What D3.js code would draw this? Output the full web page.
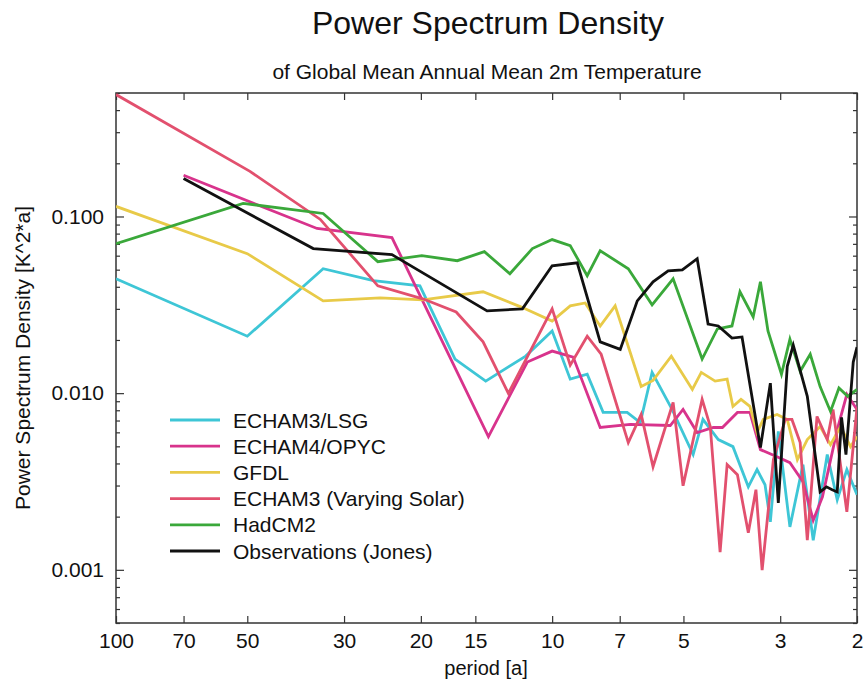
<!DOCTYPE html>
<html>
<head>
<meta charset="utf-8">
<script src="https://cdn.jsdelivr.net/npm/d3@7"></script>
<style>
  html, body { margin: 0; padding: 0; background: #ffffff; }
  svg { display: block; font-family: "Liberation Sans", Arial, Helvetica, sans-serif; }
</style>
</head>
<body>
<svg id="chart" width="864" height="682"></svg>
<script>
// Axis ticks and labels
const xTickValues = [100, 70, 50, 30, 20, 15, 10, 7, 5, 3, 2];
const yMajorValues = [0.001, 0.01, 0.1];
const yMajorLabels = ["0.001", "0.010", "0.100"];

// Legend entries, in drawing order
const seriesNames = ["ECHAM3/LSG", "ECHAM4/OPYC", "GFDL", "ECHAM3 (Varying Solar)", "HadCM2", "Observations (Jones)"];
const seriesColors = ["#3ec6d6", "#d8338c", "#e8ca48", "#e2506e", "#3aa83a", "#111111"];

// Spectra: [period (a), power spectral density (K^2*a)]
const echam3Lsg = [
  [100, 0.0444], [50, 0.0210], [33.5, 0.0506], [25.7, 0.0433], [20.1, 0.0405], [16.7, 0.0156],
  [14.2, 0.0117], [11.5, 0.0162], [10.0, 0.0225], [9.09, 0.0120], [8.31, 0.0128], [7.64, 0.00778],
  [6.73, 0.00778], [6.28, 0.00682], [5.90, 0.0131], [5.31, 0.00809], [4.75, 0.00449], [4.51, 0.00710],
  [4.16, 0.00546], [3.85, 0.00498], [3.55, 0.00295], [3.39, 0.00369], [3.25, 0.00303], [3.16, 0.00187],
  [3.03, 0.00607], [2.85, 0.00175], [2.66, 0.00394], [2.52, 0.00147], [2.34, 0.00449], [2.22, 0.00249],
  [2.11, 0.00369], [2.00, 0.00266]
];
const echam4Opyc = [
  [70, 0.171], [34.6, 0.0855], [23.3, 0.0760], [14.0, 0.00568], [11.4, 0.0150], [10.0, 0.0173],
  [8.95, 0.0160], [7.76, 0.00639], [6.62, 0.00665], [5.36, 0.00656], [5.01, 0.00809], [4.65, 0.00599],
  [4.27, 0.00639], [4.07, 0.00639], [3.76, 0.00778], [3.52, 0.00778], [3.33, 0.00479], [3.05, 0.00437],
  [2.85, 0.00404], [2.66, 0.00315], [2.52, 0.00191], [2.40, 0.00259], [2.22, 0.00622], [2.11, 0.00985],
  [2.00, 0.00809]
];
const gfdl = [
  [100, 0.114], [50, 0.0616], [33.5, 0.0333], [24.8, 0.0346], [19.8, 0.0337], [14.4, 0.0375],
  [11.8, 0.0308], [10.0, 0.0256], [9.09, 0.0312], [8.40, 0.0324], [7.76, 0.0240], [7.17, 0.0312],
  [6.25, 0.0109], [5.87, 0.0118], [5.33, 0.0162], [4.77, 0.0105], [4.55, 0.0131], [4.23, 0.0117],
  [3.97, 0.0120], [3.85, 0.00841], [3.69, 0.00922], [3.52, 0.00841], [3.39, 0.00599], [3.28, 0.00710],
  [3.05, 0.00758], [2.89, 0.00710], [2.74, 0.00420], [2.60, 0.00546], [2.43, 0.00648], [2.30, 0.00511],
  [2.18, 0.00648], [2.07, 0.00498], [2.00, 0.00568]
];
const echam3Solar = [
  [100, 0.49], [49.3, 0.180], [34.0, 0.0962], [25.1, 0.0405], [19.8, 0.0342], [16.6, 0.0288],
  [14.4, 0.0195], [12.6, 0.00998], [10.0, 0.0300], [9.09, 0.0144], [8.31, 0.0210], [7.72, 0.0166],
  [6.69, 0.00525], [6.25, 0.00758], [5.87, 0.00383], [5.28, 0.00887], [5.01, 0.00299], [4.53, 0.00922],
  [4.34, 0.00648], [4.12, 0.00126], [3.97, 0.00394], [3.76, 0.00345], [3.55, 0.00162], [3.41, 0.00284],
  [3.30, 0.000995], [3.11, 0.00420], [2.92, 0.00710], [2.82, 0.00710], [2.70, 0.00525], [2.60, 0.00147],
  [2.47, 0.00738], [2.34, 0.00546], [2.27, 0.00809], [2.11, 0.00213], [2.00, 0.00830]
];
const hadcm2 = [
  [100, 0.0702], [51.1, 0.1186], [33.5, 0.104], [25.1, 0.0555], [22.3, 0.0577], [19.9, 0.0600],
  [16.5, 0.0562], [14.3, 0.0632], [12.5, 0.0474], [11.1, 0.0658], [10.0, 0.0740], [9.09, 0.0684],
  [8.31, 0.0462], [7.76, 0.0640], [6.69, 0.0506], [5.90, 0.0316], [5.28, 0.0444], [4.53, 0.0156],
  [4.18, 0.0231], [3.87, 0.0240], [3.71, 0.0375], [3.46, 0.0270], [3.33, 0.0427], [3.20, 0.0225],
  [2.98, 0.0128], [2.85, 0.0202], [2.70, 0.0133], [2.56, 0.0166], [2.43, 0.0109], [2.30, 0.00788],
  [2.20, 0.0107], [2.10, 0.00959], [2.00, 0.0105]
];
const observationsJones = [
  [70, 0.164], [35.3, 0.0658], [23.3, 0.0608], [14.1, 0.0292], [11.7, 0.0300], [10.0, 0.0526],
  [8.76, 0.0547], [7.76, 0.0195], [6.98, 0.0177], [6.38, 0.0333], [5.87, 0.0427], [5.42, 0.0493],
  [5.03, 0.0499], [4.65, 0.0577], [4.39, 0.0246], [4.16, 0.0240], [3.87, 0.0205], [3.67, 0.0208],
  [3.33, 0.00492], [3.16, 0.0114], [3.03, 0.00239], [2.89, 0.0142], [2.80, 0.0187], [2.60, 0.00959],
  [2.43, 0.00276], [2.35, 0.00295], [2.28, 0.00284], [2.22, 0.00276], [2.17, 0.00729], [2.12, 0.00449],
  [2.04, 0.0150], [2.00, 0.0182]
];

const seriesData = [echam3Lsg, echam4Opyc, gfdl, echam3Solar, hadcm2, observationsJones];

// Layout
const plot = { left: 116, right: 857, top: 93, bottom: 623 };
const textFont = "'Liberation Sans', Arial, sans-serif";

const svg = d3.select("#chart");

const x = d3.scaleLog().domain([100, 2]).range([plot.left, plot.right]);
const y = d3.scaleLog().domain([0.0005, 0.5]).range([plot.bottom, plot.top]);

// Minor y ticks: 2..9 within each decade inside the domain
const yMinorValues = [];
[0.0001, 0.001, 0.01, 0.1].forEach(d => {
  for (let k = 2; k <= 9; k++) {
    const v = +(d * k).toPrecision(3);
    if (v >= 0.0005 && v <= 0.5 && !yMajorValues.includes(v)) yMinorValues.push(v);
  }
});

const frameColor = "#333";
const tickFont = 21;

// Bottom axis with labels, ticks pointing into the plot
const xAxisBottom = svg.append("g")
  .attr("transform", `translate(0,${plot.bottom})`)
  .call(d3.axisBottom(x).tickValues(xTickValues).tickFormat(d3.format("d"))
    .tickSizeInner(-7).tickSizeOuter(0).tickPadding(10));
// Top axis: ticks only
const xAxisTop = svg.append("g")
  .attr("transform", `translate(0,${plot.top})`)
  .call(d3.axisTop(x).tickValues(xTickValues).tickFormat("")
    .tickSizeInner(-7).tickSizeOuter(0));

// Left axis: major ticks with labels, minor ticks
const yAxisLeft = svg.append("g")
  .attr("transform", `translate(${plot.left},0)`)
  .call(d3.axisLeft(y).tickValues(yMajorValues)
    .tickFormat((d, i) => yMajorLabels[i])
    .tickSizeInner(-8).tickSizeOuter(0).tickPadding(12));
const yAxisLeftMinor = svg.append("g")
  .attr("transform", `translate(${plot.left},0)`)
  .call(d3.axisLeft(y).tickValues(yMinorValues).tickFormat("")
    .tickSizeInner(-4).tickSizeOuter(0));
// Right axis: ticks only
const yAxisRight = svg.append("g")
  .attr("transform", `translate(${plot.right},0)`)
  .call(d3.axisRight(y).tickValues(yMajorValues).tickFormat("")
    .tickSizeInner(-8).tickSizeOuter(0));
const yAxisRightMinor = svg.append("g")
  .attr("transform", `translate(${plot.right},0)`)
  .call(d3.axisRight(y).tickValues(yMinorValues).tickFormat("")
    .tickSizeInner(-4).tickSizeOuter(0));

[xAxisBottom, xAxisTop, yAxisLeft, yAxisLeftMinor, yAxisRight, yAxisRightMinor].forEach(g => {
  g.select(".domain").remove();
  g.selectAll(".tick line").attr("stroke", frameColor).attr("stroke-width", 1.2);
  g.selectAll(".tick text").attr("fill", "#111").style("font-size", tickFont + "px")
    .style("font-family", textFont);
});

// Plot frame
svg.append("rect")
  .attr("x", plot.left).attr("y", plot.top)
  .attr("width", plot.right - plot.left).attr("height", plot.bottom - plot.top)
  .attr("fill", "none").attr("stroke", frameColor).attr("stroke-width", 1.5);

// Spectrum lines
const line = d3.line().x(d => x(d[0])).y(d => y(d[1]));
svg.append("clipPath").attr("id", "plotClip")
  .append("rect").attr("x", plot.left).attr("y", plot.top)
  .attr("width", plot.right - plot.left).attr("height", plot.bottom - plot.top);

svg.append("g").attr("clip-path", "url(#plotClip)")
  .selectAll("path.series")
  .data(seriesData)
  .join("path")
  .attr("class", "series")
  .attr("d", line)
  .attr("fill", "none")
  .attr("stroke", (d, i) => seriesColors[i])
  .attr("stroke-width", 2.8)
  .attr("stroke-linejoin", "miter");

// Legend
const legend = svg.append("g");
const legendRow = d3.scaleLinear().domain([0, 1]).range([420, 446.2]);
seriesNames.forEach((name, i) => {
  const yy = legendRow(i);
  legend.append("line")
    .attr("x1", 170).attr("x2", 220).attr("y1", yy).attr("y2", yy)
    .attr("stroke", seriesColors[i]).attr("stroke-width", 2.8);
  legend.append("text")
    .attr("x", 233).attr("y", yy).attr("dy", "0.36em")
    .style("font-size", "21px").attr("fill", "#111")
    .text(name);
});

// Titles
svg.append("text")
  .attr("x", 488).attr("y", 34)
  .attr("text-anchor", "middle")
  .style("font-size", "32px").attr("fill", "#111")
  .text("Power Spectrum Density");
svg.append("text")
  .attr("x", 487).attr("y", 79)
  .attr("text-anchor", "middle")
  .style("font-size", "21px").attr("fill", "#111")
  .text("of Global Mean Annual Mean 2m Temperature");

// Axis titles
svg.append("text")
  .attr("x", 486).attr("y", 675)
  .attr("text-anchor", "middle")
  .style("font-size", "20px").attr("fill", "#111")
  .text("period [a]");
svg.append("text")
  .attr("transform", `translate(30,${(plot.top + plot.bottom) / 2}) rotate(-90)`)
  .attr("text-anchor", "middle")
  .style("font-size", "21px").attr("fill", "#111")
  .text("Power Spectrum Density [K^2*a]");
</script>
</body>
</html>
